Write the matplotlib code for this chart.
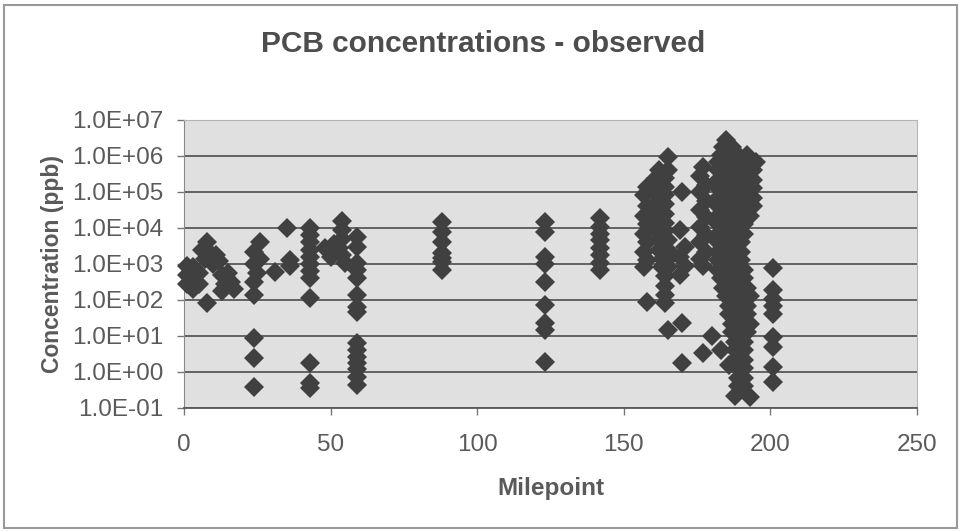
import numpy as np
import matplotlib.pyplot as plt
from matplotlib.patches import Rectangle

plt.rcParams['font.family'] = ['Liberation Sans', 'DejaVu Sans']

# upstream sites (milepoint 0 - 90)
up_mile = [1, 1, 1, 3, 3, 3, 5, 5, 6, 7, 8, 9, 10, 11, 12, 8, 13, 14, 15, 16, 17, 13,
           26, 24, 26, 24, 25, 24, 24, 24, 24, 24,
           31, 35, 36, 36,
           43, 43, 43, 43, 43, 43, 43, 43, 43, 43, 43, 43,
           48, 50, 51, 54, 54, 54, 53, 54, 55,
           59, 59, 59, 59, 59, 59, 59, 59, 59, 59, 59, 59, 59, 59, 59,
           88, 88, 88, 88, 88, 88, 88]
up_ppb = [900, 500, 280, 800, 400, 200, 560, 280, 2500, 1400, 4000, 2000, 1000, 1800, 1200, 85,
          500, 280, 560, 320, 200, 180,
          4000, 2200, 1400, 1000, 560, 320, 140, 8.7, 2.5, 0.38,
          600, 10000, 1300, 900,
          10000, 6300, 4000, 2500, 1600, 1000, 630, 400, 115, 1.8, 0.5, 0.35,
          2800, 1600, 3500, 16000, 9000, 5000, 2800, 1800, 1100,
          5600, 3000, 1100, 680, 410, 140, 65, 47, 6.5, 4.1, 2.6, 1.8, 1.2, 0.72, 0.44,
          15000, 7800, 4100, 2000, 1150, 680, 1500]

# middle reach (milepoint 120 - 172)
mid_mile = [123, 123, 123, 123, 123, 123, 123, 123, 123,
            142, 142, 142, 142, 142, 142, 142, 142,
            158, 157, 158, 157, 158, 157, 158, 157, 158, 157, 158,
            165, 162, 165, 161, 164, 161, 164, 161, 164, 161, 164, 161, 164, 161, 164,
            161, 164, 162, 165, 162, 165, 163, 165, 163, 165, 164, 164, 164, 164, 165,
            170, 169, 171, 169, 171, 169, 170, 170]
mid_ppb = [15000, 7800, 1550, 1000, 320, 72, 23, 15, 1.9,
           19000, 11000, 7000, 4500, 2800, 1800, 1100, 700,
           140000, 80000, 40000, 22000, 12600, 7000, 4000, 2200, 1260, 800, 87,
           930000, 400000, 400000, 250000, 250000, 140000, 140000, 80000, 80000,
           45000, 45000, 25000, 25000, 14000, 14000,
           8000, 8000, 4500, 4500, 2500, 2500, 1400, 1400, 800, 800, 450, 250, 140, 80, 15,
           100000, 8900, 3000, 1600, 900, 500, 23, 1.8]

# hot spot reach (milepoint 175 - 202)
hot_mile = [177, 176, 178, 176, 178, 176, 178, 176, 178, 176, 178, 176, 177,
            185, 184, 187, 183, 186, 189, 192,
            182, 185, 188, 191, 195, 182, 185, 188, 191, 194, 182, 185, 188, 191, 194,
            182, 185, 188, 191, 194, 182, 185, 188, 191, 194, 182, 185, 188, 191, 194,
            182, 185, 188, 191, 193, 182, 185, 188, 191, 182, 185, 188, 191,
            182, 185, 188, 190, 182, 185, 188, 190, 182, 185, 188, 190,
            182, 185, 188, 191, 183, 186, 189, 191, 184, 187, 190, 192,
            185, 188, 191, 193, 186, 189, 192, 186, 189, 192, 187, 190, 193,
            187, 190, 192, 188, 191, 188, 191, 188, 191, 189, 191, 189, 191, 189, 191,
            188, 193,
            180, 177, 183, 186,
            201, 201, 201, 201, 201, 201, 201, 201, 201]
hot_ppb = [500000, 280000, 160000, 100000, 56000, 32000, 20000, 11000, 6300, 4000, 2200, 1400, 900,
           2800000, 1800000, 1800000, 1100000, 1100000, 1100000, 1100000,
           700000, 700000, 700000, 700000, 700000, 400000, 400000, 400000, 400000, 400000,
           220000, 220000, 220000, 220000, 220000, 130000, 130000, 130000, 130000, 130000,
           70000, 70000, 70000, 70000, 70000, 40000, 40000, 40000, 40000, 40000,
           22000, 22000, 22000, 22000, 22000, 13000, 13000, 13000, 13000, 7000, 7000, 7000, 7000,
           4000, 4000, 4000, 4000, 2200, 2200, 2200, 2200, 1300, 1300, 1300, 1300,
           700, 700, 700, 700, 400, 400, 400, 400, 220, 220, 220, 220,
           130, 130, 130, 130, 70, 70, 70, 40, 40, 40, 22, 22, 22,
           13, 13, 13, 7, 7, 4, 4, 2.2, 2.2, 1.3, 1.3, 0.7, 0.7, 0.4, 0.4,
           0.22, 0.2,
           10, 3.4, 4, 1.6,
           780, 190, 110, 70, 40, 9.3, 5, 1.4, 0.52]

decades = [1e-1, 1e0, 1e1, 1e2, 1e3, 1e4, 1e5, 1e6, 1e7]
xticks = [0, 50, 100, 150, 200, 250]

fig = plt.figure(figsize=(9.61, 5.32), dpi=100)
ax = fig.add_axes([184/961, 1 - 408/532, (917 - 184)/961, (408 - 120)/532])
ax.set_facecolor('#e0e0e0')

for m, c in [(up_mile, up_ppb), (mid_mile, mid_ppb), (hot_mile, hot_ppb)]:
    ax.plot(m, c, 'D', color='#404040', ms=10.5, mew=0, zorder=3, clip_on=False)

ax.set_yscale('log')
ax.set_ylim(1e-1, 1e7)
ax.set_xlim(0, 250)
ax.yaxis.set_major_locator(plt.FixedLocator(decades))
ax.yaxis.set_minor_locator(plt.NullLocator())
ax.set_yticks(decades)
ax.set_yticklabels(['%.1E' % v for v in decades])
ax.set_xticks(xticks)
ax.grid(axis='y', color='#585858', lw=1.3, zorder=1)
ax.tick_params(axis='both', colors='#777777', labelcolor='#5a5a5a', labelsize=17.5,
               length=5, width=1)
ax.tick_params(axis='y', pad=9.5)
ax.tick_params(axis='x', pad=14)
for s in ['top', 'right']:
    ax.spines[s].set_color('#b5b5b5')
ax.spines['left'].set_color('#888888')
ax.spines['bottom'].set_color('#585858')
ax.spines['bottom'].set_linewidth(1.3)

ax.set_xlabel('Milepoint', fontsize=17.5, fontweight='bold', color='#5a5a5a', labelpad=15)
ax.set_ylabel('Concentration (ppb)', fontsize=16.5, fontweight='bold', color='#5a5a5a', labelpad=6)
fig.text(0.503, 0.918, 'PCB concentrations - observed', ha='center', va='center',
         fontsize=21.5, fontweight='bold', color='#4d4d4d')

fig.patches.append(Rectangle((4/961, 4/532), 953/961, 523/532, transform=fig.transFigure,
                             fill=False, ec='#999999', lw=1.5))

fig.savefig('out.png', dpi=100)
